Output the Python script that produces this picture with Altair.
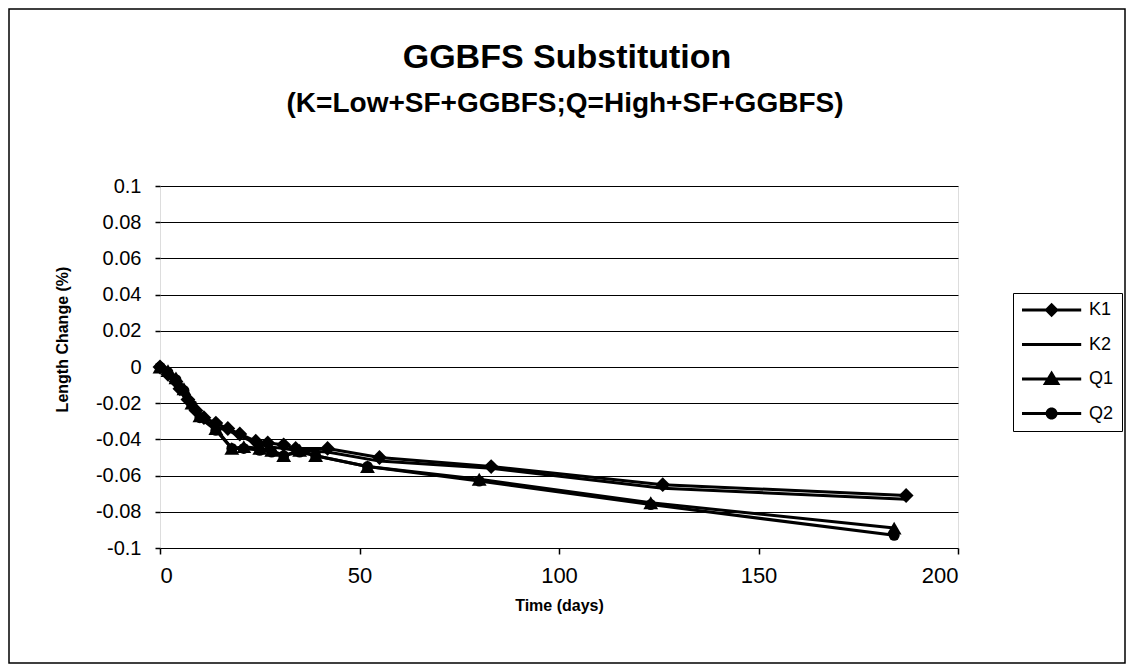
import altair as alt
import pandas as pd

# ---- data ----
k_days = [0, 2, 4, 5, 7, 9, 11, 14, 17, 20, 24, 27, 31, 34, 42, 55, 83, 126, 187]
k1_vals = [0, -0.004, -0.008, -0.012, -0.018, -0.024, -0.028, -0.031, -0.034, -0.037,
           -0.041, -0.042, -0.043, -0.045, -0.045, -0.050, -0.055, -0.065, -0.071]
k2_vals = [0, -0.005, -0.009, -0.013, -0.020, -0.026, -0.030, -0.033, -0.035, -0.038,
           -0.042, -0.044, -0.045, -0.046, -0.047, -0.052, -0.056, -0.067, -0.073]

q_days = [0, 2, 4, 6, 8, 10, 14, 18, 21, 25, 28, 31, 35, 39, 52, 80, 123, 184]
q1_vals = [0, -0.002, -0.006, -0.012, -0.020, -0.027, -0.034, -0.045, -0.044, -0.045,
           -0.046, -0.049, -0.046, -0.049, -0.055, -0.062, -0.075, -0.089]
q2_vals = [0, -0.003, -0.007, -0.013, -0.021, -0.028, -0.035, -0.045, -0.045, -0.046,
           -0.047, -0.049, -0.047, -0.049, -0.055, -0.063, -0.076, -0.093]

series_names = ["K1", "K2", "Q1", "Q2"]
x_ticks = [0, 50, 100, 150, 200]
y_ticks = [-0.1, -0.08, -0.06, -0.04, -0.02, 0, 0.02, 0.04, 0.06, 0.08, 0.1]

title_text = "GGBFS Substitution"
subtitle_text = "(K=Low+SF+GGBFS;Q=High+SF+GGBFS)"

rows = []
for name, days, vals in [("K1", k_days, k1_vals), ("K2", k_days, k2_vals),
                         ("Q1", q_days, q1_vals), ("Q2", q_days, q2_vals)]:
    for d, v in zip(days, vals):
        rows.append({"series": name, "day": d, "value": v})
df = pd.DataFrame(rows)

FONT = "Liberation Sans"

x_enc = alt.X("day:Q", scale=alt.Scale(domain=[0, 200], nice=False),
              axis=alt.Axis(values=x_ticks, format="d", title="Time (days)",
                            labelFontSize=22, titleFontSize=16, titleFontWeight="bold",
                            tickSize=6, tickColor="black", tickWidth=1.5,
                            labelPadding=11, titlePadding=11, grid=False, domain=False,
                            labelColor="black", titleColor="black",
                            labelFont=FONT, titleFont=FONT))
y_enc = alt.Y("value:Q", scale=alt.Scale(domain=[-0.1, 0.1], nice=False, zero=False),
              axis=alt.Axis(values=y_ticks, tickCount=11, labelOverlap=False,
                            labelExpr="replace(format(datum.value, '.2~f'), '\u2212', '-')",
                            title="Length Change (%)",
                            labelFontSize=20, titleFontSize=16, titleFontWeight="bold",
                            tickSize=5, tickColor="black", tickWidth=1.5,
                            labelPadding=14, grid=True, gridColor="black", gridWidth=1,
                            domain=False, labelColor="black", titleColor="black",
                            titleX=-90, titleY=153, titleBaseline="bottom",
                            labelFont=FONT, titleFont=FONT))

base = alt.Chart(df)

lines = base.mark_line(color="black", strokeWidth=3).encode(
    x=x_enc, y=y_enc, detail="series:N")

points_q2 = base.transform_filter("datum.series == 'Q2'").mark_circle(
    color="black", opacity=1, size=120).encode(x=x_enc, y=y_enc)

points = base.transform_filter("datum.series == 'K1' || datum.series == 'Q1'").mark_point(
    filled=True, color="black", opacity=1, size=220).encode(
    x=x_enc, y=y_enc,
    shape=alt.Shape("series:N",
                    scale=alt.Scale(domain=["K1", "Q1"],
                                    range=["diamond", "triangle-up"]),
                    legend=None))

# legend symbols drawn as filled shapes: a thin bar (the line) plus the series marker
# (path units are 8px because the symbol size is 256)
bar = "M-1,-0.19H6.4V0.19H-1Z"
legend_paths = [
    bar + "M2.7,-0.9L3.6,0L2.7,0.9L1.8,0Z",
    bar,
    bar + "M2.7,-1.05L3.8,0.75L1.6,0.75Z",
    bar + "M1.95,0A0.75,0.75,0,1,1,3.45,0A0.75,0.75,0,1,1,1.95,0Z",
]

legend_layer = base.mark_point(filled=True, color="black", opacity=0, size=10).encode(
    x=x_enc, y=y_enc,
    shape=alt.Shape("series:N",
                    scale=alt.Scale(domain=series_names, range=legend_paths),
                    legend=alt.Legend(title=None, orient="none", legendX=853, legendY=107,
                                      symbolSize=256, symbolStrokeWidth=0,
                                      symbolFillColor="black",
                                      symbolOpacity=1, labelFontSize=18, labelFont=FONT,
                                      labelColor="black", labelOffset=50,
                                      strokeColor="black", fillColor="white", padding=8,
                                      rowPadding=16.5)))

frame = alt.Chart(pd.DataFrame({"a": [0]})).mark_rect(
    fillOpacity=0, stroke="black", strokeWidth=1.5).encode(
    x=alt.value(-151), x2=alt.value(965), y=alt.value(-177), y2=alt.value(477))

title_mark = alt.Chart(pd.DataFrame({"t": [title_text]})).mark_text(
    font=FONT, fontSize=34, fontWeight="bold", color="black",
    align="center", baseline="alphabetic").encode(
    text="t:N", x=alt.value(407), y=alt.value(-118))

subtitle_mark = alt.Chart(pd.DataFrame({"t": [subtitle_text]})).mark_text(
    font=FONT, fontSize=28, fontWeight="bold", color="black",
    align="center", baseline="alphabetic").encode(
    text="t:N", x=alt.value(405), y=alt.value(-74))

chart = alt.layer(frame, title_mark, subtitle_mark, lines, points_q2, points,
                  legend_layer).resolve_scale(
    shape="independent"
).properties(
    width=798, height=362,
    padding={"left": 152, "top": 178, "right": 168, "bottom": 116},
    autosize=alt.AutoSizeParams(type="none"),
).configure_view(stroke="black", strokeWidth=2.5).configure(background="white")

chart.save("out.html", embed_options={"renderer": "svg", "actions": False})
